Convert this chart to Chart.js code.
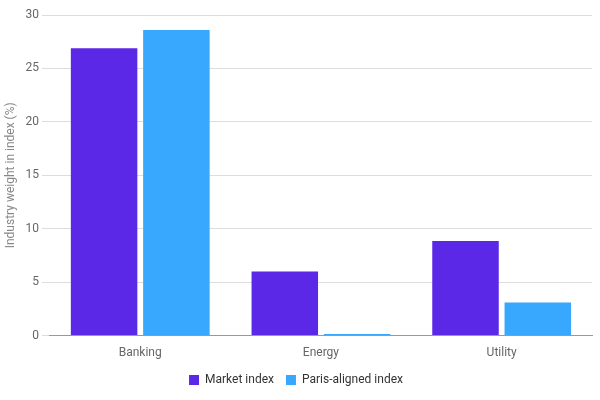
<!DOCTYPE html>
<html><head><meta charset="utf-8">
<script src="https://cdn.jsdelivr.net/npm/chart.js@4"></script>
<style>html,body{margin:0;padding:0;background:#fff}#w{width:600px;height:400px}</style>
</head><body><div id="w"><canvas id="c"></canvas></div>
<script>
const categories = ["Banking", "Energy", "Utility"];
const marketIndex = [26.9, 6.0, 8.85];
const parisIndex = [28.6, 0.15, 3.1];
const seriesNames = ["Market index", "Paris-aligned index"];
new Chart(document.getElementById('c'), {
  type: 'bar',
  data: { labels: categories, datasets: [
    { label: seriesNames[0], data: marketIndex, backgroundColor: '#5a28e6' },
    { label: seriesNames[1], data: parisIndex, backgroundColor: '#38a8ff' }
  ]},
  options: {
    responsive: true, maintainAspectRatio: false, animation: false,
    layout: { padding: { left: 0, right: 8, top: 15, bottom: 4 } },
    datasets: { bar: { categoryPercentage: 0.8, barPercentage: 0.92 } },
    plugins: {
      legend: { position: 'bottom', labels: { boxWidth: 10, boxHeight: 10, color: '#333', font: { family: 'Roboto', size: 12 }, padding: 12 } },
      tooltip: { enabled: false }
    },
    scales: {
      x: { grid: { display: false }, border: { color: '#999' }, ticks: { padding: 2, color: '#666', font: { family: 'Roboto', size: 12 } } },
      y: { min: 0, max: 30, ticks: { stepSize: 5, color: '#666', font: { family: 'Roboto', size: 12 } },
           grid: { color: '#ddd' }, border: { display: false },
           title: { display: true, text: 'Industry weight in index (%)', color: '#888', font: { family: 'Roboto', size: 12 } } }
    }
  }
});
</script></body></html>
